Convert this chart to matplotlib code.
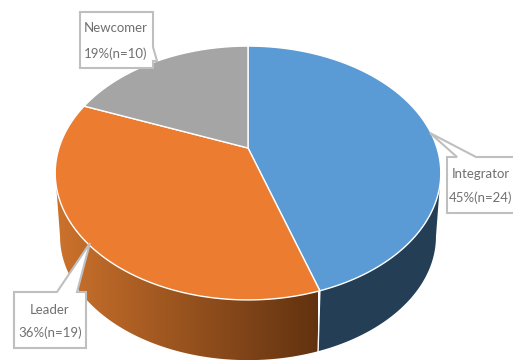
# 3d style pie of team roles, built by hand since matplotlib has no 3d pie
import numpy as np
import matplotlib.pyplot as plt
from matplotlib.patches import Polygon

# data
roles = ['Integrator', 'Leader', 'Newcomer']
percents = [45, 36, 19]
counts = [24, 19, 10]

top_colors = ['#5B9BD5', '#EB7C30', '#A5A5A5']
GRID = '#BFBFBF'
TEXT = '#707070'

# perspective of the disc, in pixels
CX, CY = 248, 148
SX, SY = 189, 122
K = 0.197
DEPTH = 64

def rim(t, scale=1.0, drop=0):
    # t runs clockwise from 12 o'clock, tilted circle gets squeezed at the far side
    x, y = np.sin(t), np.cos(t)
    d = 1 + K * y
    return CX + scale * SX * x / d, CY - scale * SY * y / d + drop

def wedge(t0, t1):
    t = np.linspace(t0, t1, 200)
    x, y = rim(t)
    return np.column_stack([np.r_[CX, x], np.r_[CY, y]])

def side(t0, t1):
    t = np.linspace(t0, t1, 200)
    x, y = rim(t)
    x2, y2 = rim(t[::-1], scale=0.975, drop=DEPTH)
    return np.column_stack([np.r_[x, x2], np.r_[y, y2]])

fig = plt.figure(figsize=(5.13, 3.6), dpi=100)
ax = fig.add_axes([0, 0, 1, 1])
ax.set_xlim(0, 513)
ax.set_ylim(360, 0)
ax.axis('off')

edges = np.r_[0, np.cumsum(percents)] / 100 * 2 * np.pi

# outermost points of the disc, walls only run between these
t_right = np.arccos(-K)
t_left = 2 * np.pi - t_right

# walls first, the top faces go over them
blue_wall = Polygon(side(t_right, edges[1]), fc='#233E55', ec='none', zorder=2)
ax.add_patch(blue_wall)

orange_wall = Polygon(side(edges[1], t_left), fc='none', ec='none', zorder=2)
ax.add_patch(orange_wall)
ramp = np.linspace(0, 1, 256).reshape(1, -1, 1)
light = np.array([0xCC, 0x72, 0x2C]) / 255
dark = np.array([0x62, 0x32, 0x10]) / 255
img = ax.imshow(light + (dark - light) * ramp, extent=[56, 318, 360, 100], aspect='auto', zorder=2)
img.set_clip_path(orange_wall)
ax.set_xlim(0, 513)
ax.set_ylim(360, 0)

# white seam between the two walls
sx, sy = rim(edges[1])
sx2, sy2 = rim(edges[1], scale=0.975, drop=DEPTH)
ax.plot([sx, sx2], [sy, sy2], color='white', lw=1, zorder=3)

for i in range(len(roles)):
    ax.add_patch(Polygon(wedge(edges[i], edges[i + 1]), fc=top_colors[i], ec='white', lw=1, zorder=4))

# callout boxes: outline with pointer, then the two text lines
callouts = [
    [(447, 157), (457, 157), (430, 133), (476, 157), (530, 157), (530, 213), (447, 213)],
    [(14, 292), (57, 292), (90, 243), (77, 292), (86, 292), (86, 348), (14, 348)],
    [(80, 12), (153, 12), (153, 47), (157, 61), (153, 61), (153, 68), (80, 68)],
]
text_pos = [(481, 174, 198), (50, 310, 333), (116, 28, 54)]

for i in range(len(roles)):
    ax.add_patch(Polygon(callouts[i], fc='white', ec=GRID, lw=1.5, zorder=5))
    x, y1, y2 = text_pos[i]
    ax.text(x, y1, roles[i], color=TEXT, fontsize=9.5, family='Lato',
            ha='center', va='center', zorder=6)
    ax.text(x, y2, '%d%%(n=%d)' % (percents[i], counts[i]), color=TEXT, fontsize=9.5,
            family='Lato', ha='center', va='center', zorder=6)

fig.savefig('out.png', dpi=100)
